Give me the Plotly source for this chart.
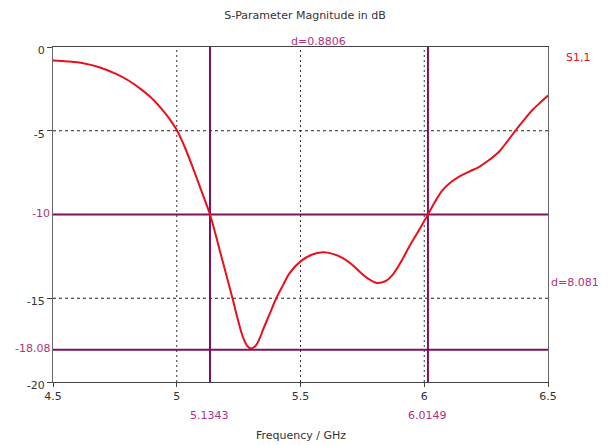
import plotly.graph_objects as go

# S1,1 curve (GHz, dB)
freq = [4.5, 4.56, 4.622, 4.69, 4.757, 4.805, 4.851, 4.895, 4.931, 4.967, 5.0, 5.033, 5.066,
        5.1, 5.1343, 5.173, 5.2, 5.227, 5.25, 5.267, 5.285, 5.30, 5.318, 5.335,
        5.348, 5.375, 5.402, 5.43, 5.456, 5.5, 5.545, 5.59, 5.63, 5.671, 5.705, 5.738, 5.77,
        5.805, 5.84, 5.872, 5.905, 5.94, 5.978, 6.0149,
        6.045, 6.074, 6.105, 6.141, 6.18, 6.222, 6.262, 6.302, 6.335, 6.37, 6.405, 6.437, 6.47, 6.5]
s11 = [-0.8, -0.86, -0.97, -1.22, -1.62, -2.0, -2.47, -3.0, -3.56, -4.22, -4.96, -6.0, -7.24,
       -8.6, -10.0, -12.1, -13.6, -15.1, -16.45, -17.3, -17.85, -18.0, -17.85, -17.4,
       -16.9, -15.95, -15.0, -14.2, -13.5, -12.8, -12.4, -12.26, -12.35, -12.6, -12.95, -13.4, -13.8,
       -14.07, -14.0, -13.6, -12.85, -11.9, -10.95, -10.0,
       -9.2, -8.54, -8.1, -7.74, -7.45, -7.15, -6.75, -6.25, -5.65, -4.96, -4.32, -3.76, -3.3, -2.9]

# markers
marker_x = [5.1343, 6.0149]
marker_y = [-10.0, -18.08]
marker_x_labels = ["5.1343", "6.0149"]
marker_y_labels = ["-10", "-18.08"]
dx_label = "d=0.8806"
dy_label = "d=8.081"

x_ticks = [4.5, 5, 5.5, 6, 6.5]
x_ticktext = ["4.5", "5", "5.5", "6", "6.5"]
y_ticks = [0, -5, -15, -20]
y_ticktext = ["0", "-5", "-15", "-20"]
grid_x = [5, 5.5, 6]
grid_y = [-5, -10, -15]

xmin, xmax = 4.5, 6.5
ymin, ymax = -20, 0

MK = "#7d1060"
MKT = "#b0307e"
FONT = "DejaVu Sans"

fig = go.Figure()

# dashed grid
for gx in grid_x:
    fig.add_trace(go.Scatter(x=[gx, gx], y=[ymin, ymax], mode="lines",
                             line=dict(color="#333333", width=1, dash="2px,3px"),
                             hoverinfo="skip", showlegend=False))
for gy in grid_y:
    fig.add_trace(go.Scatter(x=[xmin, xmax], y=[gy, gy], mode="lines",
                             line=dict(color="#222222", width=1, dash="3px,3px"),
                             hoverinfo="skip", showlegend=False))

# marker lines
for mx in marker_x:
    fig.add_trace(go.Scatter(x=[mx, mx], y=[ymin, ymax], mode="lines",
                             line=dict(color=MK, width=2),
                             hoverinfo="skip", showlegend=False))
for my in marker_y:
    fig.add_trace(go.Scatter(x=[xmin, xmax], y=[my, my], mode="lines",
                             line=dict(color=MK, width=2),
                             hoverinfo="skip", showlegend=False))

# curve
fig.add_trace(go.Scatter(x=freq, y=s11, mode="lines", name="S1,1",
                         line=dict(color="#e8101a", width=2, shape="spline", smoothing=1.0),
                         showlegend=False))

annotations = []
for mx, t in zip(marker_x, marker_x_labels):
    annotations.append(dict(x=mx, y=0, xref="x", yref="paper", text=t, showarrow=False,
                            yanchor="middle", yshift=-33,
                            font=dict(color=MKT, size=11, family=FONT)))
for my, t in zip(marker_y, marker_y_labels):
    annotations.append(dict(x=0, y=my, xref="paper", yref="y", text=t, showarrow=False,
                            xanchor="right", xshift=-1, yshift=1,
                            font=dict(color=MKT, size=11, family=FONT)))
annotations.append(dict(x=(marker_x[0] + marker_x[1]) / 2, y=1, xref="x", yref="paper",
                        text=dx_label, showarrow=False, yanchor="bottom", yshift=-3,
                        font=dict(color=MKT, size=11, family=FONT)))
annotations.append(dict(x=1, y=(marker_y[0] + marker_y[1]) / 2, xref="paper", yref="y",
                        text=dy_label, showarrow=False, xanchor="left", xshift=1,
                        font=dict(color=MKT, size=11, family=FONT)))
annotations.append(dict(x=1, y=1, xref="paper", yref="paper", text="S1,1", showarrow=False,
                        xanchor="left", yanchor="middle", xshift=16, yshift=-10,
                        font=dict(color="#e8101a", size=11, family=FONT)))
annotations.append(dict(x=0.5, y=0, xref="paper", yref="paper", text="Frequency / GHz",
                        showarrow=False, yanchor="middle", yshift=-53,
                        font=dict(color="#333333", size=11, family=FONT)))

fig.update_layout(
    width=610, height=445,
    margin=dict(l=53, r=62, t=47, b=63),
    paper_bgcolor="white", plot_bgcolor="white",
    font=dict(family=FONT, size=11, color="#333333"),
    title=dict(text="S-Parameter Magnitude in dB", x=0.5, xanchor="center",
               y=1 - 15 / 445, yanchor="middle", font=dict(size=11, family=FONT, color="#333333")),
    annotations=annotations,
    xaxis=dict(range=[xmin, xmax], tickvals=x_ticks, ticktext=x_ticktext,
               showgrid=False, zeroline=False, showline=True, mirror=True,
               linecolor="#444444", linewidth=1, ticks="outside", ticklen=4,
               tickcolor="#444444", automargin=False),
    yaxis=dict(range=[ymin, ymax], tickvals=y_ticks, ticktext=y_ticktext,
               showgrid=False, zeroline=False, showline=True, mirror=True,
               linecolor="#666666", linewidth=1, ticks="outside", ticklen=5,
               tickcolor="#444444", ticklabelshift=3, automargin=False),
)

fig.write_html("out.html")
